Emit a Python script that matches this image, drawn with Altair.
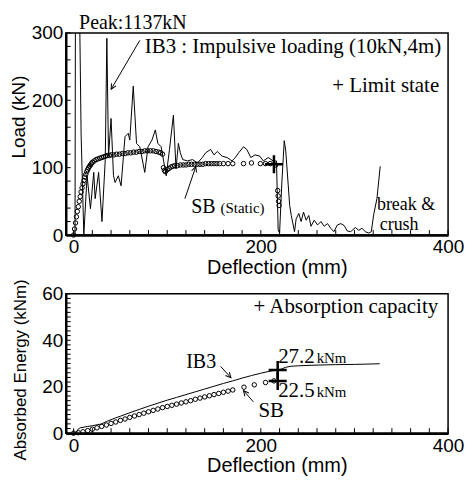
import altair as alt
import pandas as pd

SANS = "Liberation Sans, Arial, Helvetica, sans-serif"
SERIF = "Liberation Serif, Times New Roman, Times, serif"

# ---------------- top panel: load vs deflection ----------------
ib3_defl = [0, 1.5, 3, 6.5, 8, 10.9, 14.4, 18, 21.5, 23, 26.7, 30.3, 33.8, 35.5, 37.3, 40,
            42.6, 44.3, 47.8, 50.7, 54.9, 58.4, 60, 63.7, 67.2, 70.7, 76, 79.5, 83.7, 87.3,
            90, 93.5, 98.9, 102.4, 106.6, 109.4, 111.9, 114, 116.5, 121.7, 127, 132.3,
            137.5, 141, 146.4, 150, 153.4, 158.7, 164, 169.2, 172.7, 176.3, 181.5, 185,
            189.3, 193.8, 199, 202.6, 207.9, 213.2, 216.7, 218.5, 220, 222.5, 225, 226.6,
            230.8, 232.5, 236, 237.7, 240.6, 243, 245.6, 248.4, 251.2, 253.6, 257, 260.6,
            264.2, 267.7, 271.2, 274.7, 278, 281.8, 285.4, 289, 292.3, 295.9, 301, 304.6,
            308, 311.6, 315.2, 318, 320.5, 324, 327.5]
ib3_load = [0, 0, 1137, 320, 150, 0, 88, 39, 93, 54, 93, 20, 112, 292, 117, 173,
            88, 78, 88, 73, 146, 151, 141, 221, 136, 131, 93, 131, 141, 156,
            136, 131, 88, 127, 178, 98, 136, 122, 112, 110, 112, 107,
            115, 122, 127, 119, 124, 117, 115, 110, 115, 122, 131, 127,
            115, 119, 117, 110, 115, 110, 110, 8, 3, 80, 140, 125,
            44, 29, 5, 24, 32, 20, 34, 22, 29, 13, 22, 15,
            20, 13, 17, 10, 5, 15, 17, 14, 6, 5, 11, 7,
            10, 5, 3, 5, 30, 54, 102]

sb_defl = [0, 1, 2, 3, 4, 5, 6, 7, 8, 9, 10, 11, 12, 13, 14, 15, 16, 17, 18, 19, 20, 22, 24,
           26, 28, 30, 32, 34, 36, 38, 40, 43, 46, 49, 52, 55, 58, 61, 64, 67, 70, 73, 76,
           79, 82, 85, 88, 91, 93, 95, 96, 97, 98, 100, 102, 104, 106, 108, 111, 114, 117,
           120, 123, 126, 129, 132, 135, 138, 141, 144, 147, 150, 153, 156, 160, 165, 170,
           181.5, 190, 199.5, 205, 210, 216, 218, 218.5, 219, 219.5]
sb_load = [0, 9, 18, 27, 35, 42, 50, 57, 64, 70, 76, 81, 86, 90, 94, 97, 100, 102, 104, 106,
           108, 110, 112, 113, 114, 115, 116, 117, 118, 118, 119, 119, 120, 120, 121, 121,
           122, 122, 123, 123, 124, 124, 125, 125, 125, 125, 124, 123, 122, 120, 100, 96,
           94, 97, 99, 101, 102, 103, 103, 104, 104, 104, 105, 105, 105, 105, 105, 105,
           106, 106, 106, 106, 106, 106, 106, 106, 106, 106, 107, 106, 106, 106, 104,
           66, 58, 50, 44]

limit_defl = [214]
limit_load = [105]

# ---------------- bottom panel: absorbed energy ----------------
ib3e_defl = [0, 2, 3.5, 5, 7, 10, 15, 20, 25, 30, 35, 40, 45, 50, 60, 70, 80, 90, 100, 110,
             120, 130, 140, 150, 160, 170, 180, 190, 200, 210, 218, 222, 226, 232, 240, 260,
             280, 300, 320, 327]
ib3e_energy = [0, 0, 0.6, 1.8, 2.3, 2.5, 2.9, 3.2, 3.6, 4.0, 5.0, 5.8, 6.6, 7.3, 8.8, 10.2,
               11.6, 12.9, 14.2, 15.4, 16.6, 17.8, 19.0, 20.2, 21.4, 22.5, 23.7, 24.8, 25.8,
               26.7, 27.2, 27.6, 28.3, 28.8, 29.0, 29.3, 29.5, 29.6, 29.8, 29.9]

sbe_defl = [0, 5, 10, 15, 20, 25, 30, 35, 40, 45, 50, 55, 60, 65, 70, 75, 80, 85, 90, 95,
            100, 105, 110, 115, 120, 125, 130, 135, 140, 145, 150, 155, 160, 165, 170, 182,
            193, 205, 214]
sbe_energy = [0, 0.2, 0.6, 1.1, 1.7, 2.3, 2.9, 3.5, 4.2, 4.8, 5.5, 6.1, 6.8, 7.4, 8.0, 8.6,
              9.2, 9.8, 10.4, 11.0, 11.5, 12.0, 12.5, 13.0, 13.5, 14.0, 14.6, 15.1, 15.6,
              16.1, 16.6, 17.1, 17.6, 18.1, 18.6, 19.8, 20.8, 21.8, 22.5]

cap_defl = [218, 218]
cap_energy = [27.2, 22.5]

# ticks / labels
x_ticks = list(range(0, 401, 20))
load_ticks = list(range(0, 301, 20))
energy_ticks = list(range(0, 61, 2))
x_labels = [0, 200, 400]
load_labels = [0, 100, 200, 300]
energy_labels = [0, 20, 40, 60]

# annotations: text, x, y (data units, baseline), align, font size
top_notes = [
    ("Peak:1137kN", 63.3, 306.5, "center", 20),
    ("IB3 : Impulsive loading (10kN,4m)", 76, 270, "left", 21),
    ("+ Limit state", 390.5, 211.6, "right", 21),
    ("SB", 125.6, 32.5, "left", 20),
    ("(Static)", 157, 32.5, "left", 15),
    ("break &", 324, 37.5, "left", 18),
    ("crush", 327, 8, "left", 18),
]
top_arrows = [  # x1, y1, x2 (tip), y2 (tip), head angle
    (70.7, 289, 40.1, 216.5, 210),
    (118.9, 54, 130.5, 101.5, 19),
]
bot_notes = [
    ("+ Absorption capacity", 389.4, 51.7, "right", 21),
    ("IB3", 120.3, 27.9, "left", 20),
    ("SB", 197.4, 7.1, "left", 21),
    ("27.2", 218.5, 30, "left", 21),
    ("kNm", 259.6, 30, "left", 15),
    ("22.5", 218.5, 15.4, "left", 21),
    ("kNm", 259.6, 15.4, "left", 15),
]
bot_arrows = [
    (157, 28.75, 168, 23.9, 138),
    (192, 13.5, 181.5, 18.3, 320),
]

XDOM = [-8.4, 400]
W = 384
H1 = 203
H2 = 140


def panel(lx, ly, px, py, mx, my, notes, arrows, yticks, ylabels, ydom, h, ytitle,
          title_y, title_pad, title_size):
    xs = alt.Scale(domain=XDOM, nice=False, zero=False)
    ys = alt.Scale(domain=ydom, nice=False, zero=False)
    line_df = pd.DataFrame({"x": lx, "y": ly, "i": list(range(len(lx)))})
    pts_df = pd.DataFrame({"x": px, "y": py})
    mk_df = pd.DataFrame({"x": mx, "y": my})

    line = alt.Chart(line_df).mark_line(color="black", strokeWidth=1, clip=True).encode(
        x=alt.X("x:Q", scale=xs, axis=alt.Axis(values=x_labels, title="Deflection (mm)",
                                               labelFlush=False, titlePadding=1,
                                               titleX=212)),
        y=alt.Y("y:Q", scale=ys, axis=alt.Axis(values=ylabels, title=ytitle,
                                               labelFlush=False, titleY=title_y,
                                               titlePadding=title_pad,
                                               titleFontSize=title_size)),
        order="i:Q",
    )
    pts = alt.Chart(pts_df).mark_point(shape="circle", filled=False, color="black",
                                       size=20, strokeWidth=1, opacity=1).encode(
        x=alt.X("x:Q", scale=xs), y=alt.Y("y:Q", scale=ys))
    mk = alt.Chart(mk_df).mark_point(shape="M-1,0L1,0M0,-1L0,1", filled=False,
                                     color="black", size=330, strokeWidth=2.5,
                                     opacity=1).encode(
        x=alt.X("x:Q", scale=xs), y=alt.Y("y:Q", scale=ys))

    xt = alt.Chart(pd.DataFrame({"x": x_ticks})).mark_rule(color="black", strokeWidth=1).encode(
        x=alt.X("x:Q", scale=xs), y=alt.value(h), y2=alt.value(h - 5))
    yt = alt.Chart(pd.DataFrame({"y": yticks})).mark_rule(color="black", strokeWidth=1).encode(
        y=alt.Y("y:Q", scale=ys), x=alt.value(0), x2=alt.value(5))

    layers = [xt, yt, line, pts, mk]

    arr_df = pd.DataFrame(arrows, columns=["x", "y", "x2", "y2", "a"])
    layers.append(alt.Chart(arr_df).mark_rule(color="black", strokeWidth=1).encode(
        x=alt.X("x:Q", scale=xs), x2="x2:Q", y=alt.Y("y:Q", scale=ys), y2="y2:Q"))
    layers.append(alt.Chart(arr_df).mark_point(shape="M-0.5,1L0,0L0.5,1", filled=False,
                                               color="black", size=110, strokeWidth=1,
                                               opacity=1).encode(
        x=alt.X("x2:Q", scale=xs), y=alt.Y("y2:Q", scale=ys),
        angle=alt.Angle("a:Q", scale=None)))

    for t, x, y, al, fs in notes:
        layers.append(alt.Chart(pd.DataFrame({"x": [x], "y": [y], "t": [t]})).mark_text(
            align=al, baseline="alphabetic", font=SERIF, fontSize=fs, color="black").encode(
            x=alt.X("x:Q", scale=xs), y=alt.Y("y:Q", scale=ys), text="t:N"))

    return alt.layer(*layers).properties(width=W, height=h)


top = panel(ib3_defl, ib3_load, sb_defl, sb_load, limit_defl, limit_load, top_notes,
            top_arrows, load_ticks, load_labels, [0, 300], H1, "Load (kN)", 84, 3, 19)
bot = panel(ib3e_defl, ib3e_energy, sbe_defl, sbe_energy, cap_defl, cap_energy, bot_notes,
            bot_arrows, energy_ticks, energy_labels, [0, 60], H2,
            "Absorbed Energy (kNm)", 76, 12, 17)

chart = alt.vconcat(top, bot, spacing=59, bounds="flush").properties(
    padding={"left": 0, "top": 2, "right": 0, "bottom": 0},
    background="white",
).configure_view(stroke="black", strokeWidth=1.5).configure_axis(
    labelFont=SANS, labelFontSize=19, labelColor="black", labelPadding=3,
    titleFont=SANS, titleFontSize=20, titleFontWeight="normal", titleColor="black",
    ticks=False, grid=False, domainColor="black", domainWidth=2.5,
)

chart.save("out.html", embed_options={"renderer": "svg", "actions": False})
